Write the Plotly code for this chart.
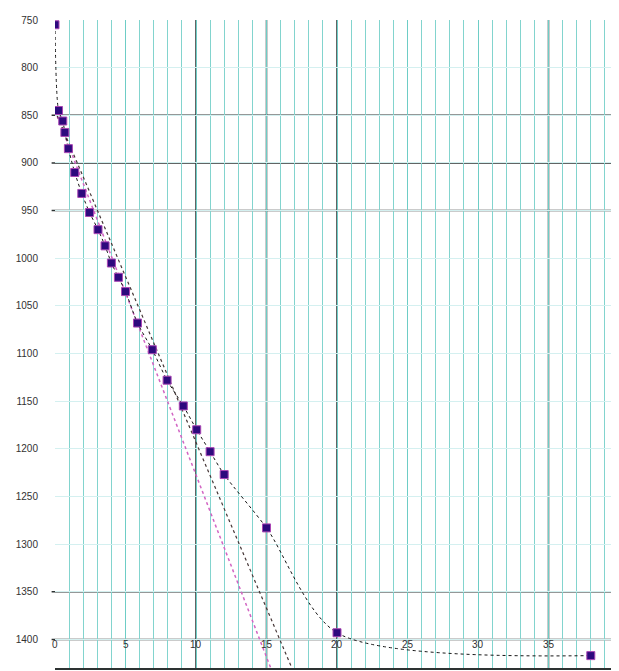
import plotly.graph_objects as go

# measured series
time_x = [0, 0.25, 0.55, 0.7, 0.95, 1.4, 1.9, 2.45, 3.05, 3.55, 4.0, 4.5, 5.0,
          5.85, 6.9, 7.95, 9.1, 10.05, 11.0, 12.0, 15.0, 20.0, 38.0]
depth_y = [755, 845, 856, 868, 885, 910, 932, 952, 970, 987, 1005, 1020, 1035,
           1068, 1096, 1128, 1155, 1180, 1203, 1227, 1283, 1393, 1417]

# straight reference lines (end points)
line_a_x = [0, 15.3]
line_a_y = [845, 1430]
line_b_x = [0, 16.8]
line_b_y = [845, 1430]

# tick labels
x_ticks = [0, 5, 10, 15, 20, 25, 30, 35, 40]
y_ticks = [750, 800, 850, 900, 950, 1000, 1050, 1100, 1150, 1200, 1250, 1300, 1350, 1400]

# emphasised grid positions
dark_x = [10, 15, 20, 35]
dark_y = [850, 900, 950, 1350, 1400]

fig = go.Figure()
fig.add_trace(go.Scatter(x=line_a_x, y=line_a_y, mode="lines",
                         line=dict(color="rgb(210,100,195)", width=1.5, dash="dot"),
                         showlegend=False, hoverinfo="skip"))
fig.add_trace(go.Scatter(x=line_b_x, y=line_b_y, mode="lines",
                         line=dict(color="rgb(70,55,55)", width=1.2, dash="dot"),
                         showlegend=False, hoverinfo="skip"))
fig.add_trace(go.Scatter(x=time_x, y=depth_y, mode="lines+markers",
                         line=dict(color="rgb(20,20,20)", width=1, dash="dot",
                                   shape="spline", smoothing=0.8),
                         marker=dict(symbol="square", size=8, color="rgb(45,10,125)",
                                     line=dict(color="rgb(170,70,180)", width=1)),
                         showlegend=False))

shapes = []
for v in dark_x:
    shapes.append(dict(type="line", xref="x", yref="paper", x0=v, x1=v, y0=0, y1=1,
                       line=dict(color="rgb(45,50,50)", width=1.5), layer="between"))
for v in dark_y:
    shapes.append(dict(type="line", xref="paper", yref="y", x0=-0.006, x1=1, y0=v, y1=v,
                       line=dict(color="rgb(45,50,50)", width=1.5), layer="between"))

annotations = [dict(x=v, y=0.036, xref="x", yref="paper", text=str(v), showarrow=False,
                    xanchor="center", yanchor="middle",
                    font=dict(size=10, color="rgb(50,50,50)")) for v in x_ticks]

# page body adds an 8px offset; size the figure so the plot lands where the reference has it
fig.update_layout(
    width=611, height=663,
    margin=dict(l=47, r=0, t=12, b=3),
    paper_bgcolor="white", plot_bgcolor="white",
    font=dict(family="Liberation Sans, Arial, sans-serif", size=10, color="rgb(50,50,50)"),
    shapes=shapes, annotations=annotations,
    xaxis=dict(range=[0, 40], tickmode="linear", tick0=0, dtick=5, showticklabels=False,
               automargin=False,
               showgrid=True, gridcolor="rgb(110,205,198)", gridwidth=1,
               minor=dict(tickmode="linear", tick0=0, dtick=1, showgrid=True,
                          gridcolor="rgb(130,212,206)", gridwidth=1),
               showline=True, linecolor="rgb(45,50,50)", linewidth=2,
               zeroline=False, ticks=""),
    yaxis=dict(range=[1430, 750], tickvals=y_ticks, showgrid=True, automargin=False,
               gridcolor="rgb(212,240,240)", gridwidth=1, zeroline=False,
               ticks="", ticklabelstandoff=16, showline=False),
)

fig.write_html("out.html")
